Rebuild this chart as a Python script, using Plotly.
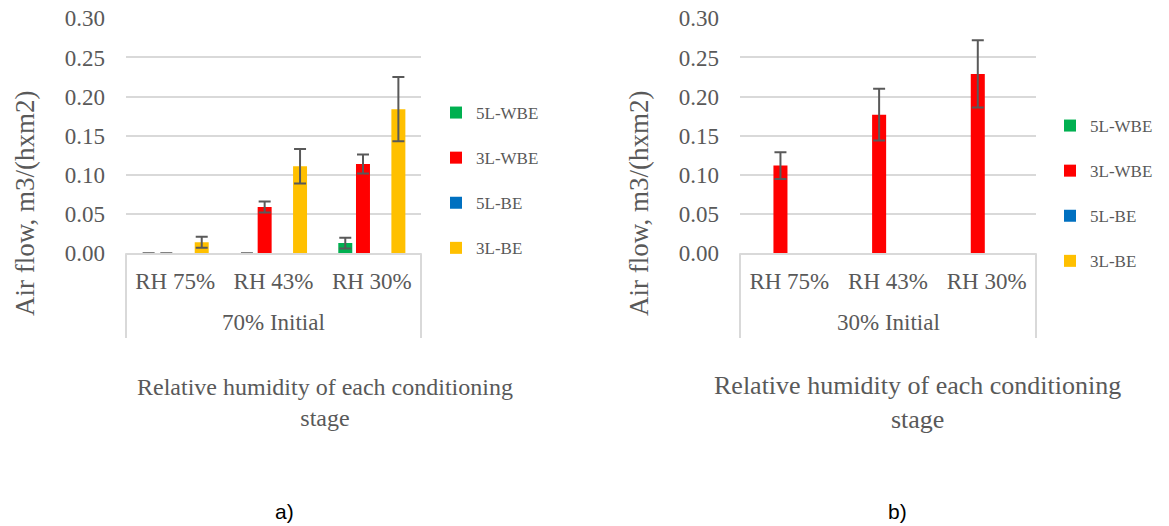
import plotly.graph_objects as go

W, H = 1169, 526

categories = ["RH 75%", "RH 43%", "RH 30%"]
series_names = ["5L-WBE", "3L-WBE", "5L-BE", "3L-BE"]
series_colors = ["#00B050", "#FF0000", "#0070C0", "#FFC000"]
y_ticks = [0.0, 0.05, 0.10, 0.15, 0.20, 0.25, 0.30]
y_tick_text = ["0.00", "0.05", "0.10", "0.15", "0.20", "0.25", "0.30"]

# Chart a) 70% Initial
a_5L_WBE = [0.0, 0.0, 0.013]
a_5L_WBE_err = [0.0, 0.0, 0.007]
a_3L_WBE = [0.0, 0.059, 0.114]
a_3L_WBE_err = [0.0, 0.007, 0.012]
a_5L_BE = [None, None, None]
a_5L_BE_err = [None, None, None]
a_3L_BE = [0.014, 0.111, 0.184]
a_3L_BE_err = [0.007, 0.022, 0.041]

# Chart b) 30% Initial
b_5L_WBE = [None, None, None]
b_5L_WBE_err = [None, None, None]
b_3L_WBE = [0.112, 0.177, 0.229]
b_3L_WBE_err = [0.017, 0.033, 0.043]
b_5L_BE = [None, None, None]
b_5L_BE_err = [None, None, None]
b_3L_BE = [None, None, None]
b_3L_BE_err = [None, None, None]

group_a = "70% Initial"
group_b = "30% Initial"
x_title = "Relative humidity of each conditioning<br>stage"
y_title = "Air flow, m3/(hxm2)"

TXT = "#595959"
GRID = "#d9d9d9"
SERIF = "Liberation Serif"

def py(px):
    return (H - px) / H

def px_x(px):
    return px / W

fig = go.Figure()

a_vals = [(a_5L_WBE, a_5L_WBE_err), (a_3L_WBE, a_3L_WBE_err), (a_5L_BE, a_5L_BE_err), (a_3L_BE, a_3L_BE_err)]
b_vals = [(b_5L_WBE, b_5L_WBE_err), (b_3L_WBE, b_3L_WBE_err), (b_5L_BE, b_5L_BE_err), (b_3L_BE, b_3L_BE_err)]

for i, (name, col) in enumerate(zip(series_names, series_colors)):
    v, e = a_vals[i]
    fig.add_trace(go.Bar(
        x=categories, y=v, name=name, marker=dict(color=col, line=dict(width=0)),
        error_y=dict(type="data", array=e, color="#595959", thickness=2, width=6),
        xaxis="x", yaxis="y", offsetgroup=name, legend="legend", legendgroup="a" + str(i),
    ))
for i, (name, col) in enumerate(zip(series_names, series_colors)):
    v, e = b_vals[i]
    fig.add_trace(go.Bar(
        x=categories, y=v, name=name, marker=dict(color=col, line=dict(width=0)),
        error_y=dict(type="data", array=e, color="#595959", thickness=2, width=6),
        xaxis="x2", yaxis="y2", offsetgroup=name, legend="legend2", legendgroup="b" + str(i),
    ))

y_dom = [py(253.3), py(18.3)]
xa_dom = [px_x(126), px_x(421)]
xb_dom = [px_x(740), px_x(1036)]

def xaxis(dom, anchor):
    return dict(domain=dom, anchor=anchor, type="category", showgrid=False, automargin=False,
                showline=True, linecolor=GRID, linewidth=2, ticks="",
                ticklabelstandoff=6,
                tickfont=dict(family=SERIF, size=23, color=TXT), zeroline=False)

def yaxis(anchor):
    return dict(domain=y_dom, anchor=anchor, range=[0, 0.30], tickvals=y_ticks, automargin=False,
                ticktext=y_tick_text, showgrid=True, gridcolor=GRID, gridwidth=1.5,
                showline=False, zeroline=False, ticks="", ticklabelstandoff=20,
                tickfont=dict(family=SERIF, size=23, color=TXT))

fig.update_layout(
    template="none",
    width=W, height=H, margin=dict(l=0, r=0, t=0, b=0, pad=0, autoexpand=False),
    paper_bgcolor="white", plot_bgcolor="white",
    barmode="group", bargap=0.28, bargroupgap=0.21,
    xaxis=xaxis(xa_dom, "y"), yaxis=yaxis("x"),
    xaxis2=xaxis(xb_dom, "y2"), yaxis2=yaxis("x2"),
    showlegend=True,
    legend=dict(x=px_x(436), y=py(95), xanchor="left", yanchor="top",
                font=dict(family=SERIF, size=17, color=TXT), tracegroupgap=20,
                bgcolor="rgba(0,0,0,0)"),
    legend2=dict(x=px_x(1050), y=py(108), xanchor="left", yanchor="top",
                 font=dict(family=SERIF, size=17, color=TXT), tracegroupgap=20,
                 bgcolor="rgba(0,0,0,0)"),
)

shapes = []
for xr in ["x domain", "x2 domain"]:
    for xv in [0, 1]:
        shapes.append(dict(type="line", xref=xr, yref="paper", x0=xv, x1=xv,
                           y0=py(338), y1=py(253.3), line=dict(color=GRID, width=2)))
fig.update_layout(shapes=shapes)

def note(text, xpx, ypx, size, family=SERIF, color=TXT, angle=0):
    return dict(text=text, x=px_x(xpx), y=py(ypx), xref="paper", yref="paper",
                xanchor="center", yanchor="middle", showarrow=False, textangle=angle,
                font=dict(family=family, size=size, color=color))

ann = [
    note(group_a, (126 + 421) / 2, 322, 23),
    note(group_b, (740 + 1036) / 2, 322, 23),
    note(x_title, 325, 402, 24),
    note(x_title, 917, 402, 26),
    note(y_title, 25, 204, 27, angle=-90),
    note(y_title, 639, 204, 27, angle=-90),
    note("a)", 284, 511, 21, family="Liberation Sans", color="black"),
    note("b)", 897, 511, 21, family="Liberation Sans", color="black"),
]
fig.update_layout(annotations=ann)

fig.write_html("out.html")
